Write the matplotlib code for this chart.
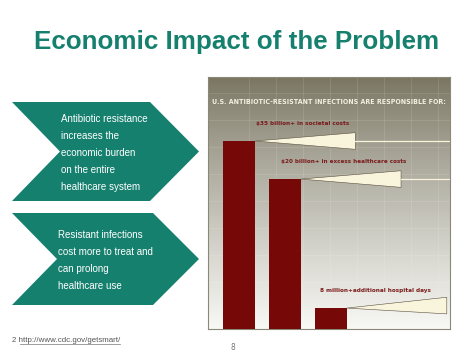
import numpy as np
import matplotlib.pyplot as plt
from matplotlib import font_manager
from matplotlib.patches import Polygon

# slide text
title = "Economic Impact of the Problem"
chevron_texts = [
    ["Antibiotic resistance", "increases the", "economic burden", "on the entire", "healthcare system"],
    ["Resistant infections", "cost more to treat and", "can prolong", "healthcare use"],
]
footnote = "2 http://www.cdc.gov/getsmart/"
page_no = "8"

# chart data (bar heights as % of panel height)
chart_header = "U.S. ANTIBIOTIC-RESISTANT INFECTIONS ARE RESPONSIBLE FOR:"
bar_labels = ["$35 billion+ in societal costs",
              "$20 billion+ in excess healthcare costs",
              "8 million+additional hospital days"]
bar_heights = [74.6, 59.5, 8.3]

teal = "#16806f"
barred = "#770808"
cream = "#f9f4dc"

# look for a narrow/condensed face for the infographic lettering
narrow_file = None
for f in font_manager.fontManager.ttflist:
    nm = (f.name + " " + str(f.stretch) + " " + f.fname).lower()
    if "condensed" in nm or "narrow" in nm:
        narrow_file = f.fname
        break
if narrow_file:
    narrow = dict(fontproperties=font_manager.FontProperties(fname=narrow_file, weight="bold"))
else:
    narrow = dict(family=["Roboto", "DejaVu Sans"], fontweight="bold")

fig = plt.figure(figsize=(4.74, 3.55), dpi=100)
fig.patch.set_facecolor("white")
renderer = fig.canvas.get_renderer()


def fit_width(txt, target):
    # shrink/grow font so the text is as wide as in the reference
    for _ in range(3):
        wpx = txt.get_window_extent(renderer=renderer).width
        txt.set_fontsize(txt.get_fontsize() * target / wpx)


# whole-slide axes in pixel units
sl = fig.add_axes([0, 0, 1, 1])
sl.set_xlim(0, 474)
sl.set_ylim(355, 0)
sl.axis("off")

sl.text(237, 42, title, color=teal, fontsize=18.7, fontweight="bold",
        family="Liberation Sans", ha="center", va="center")

# chevrons
chev = [(12, 102, 150, 199, 201, 60), (12, 213, 153, 199, 305, 57)]
for (x0, top, xr, tip, bot, notch), lines in zip(chev, chevron_texts):
    mid = (top + bot) / 2
    pts = [(x0, top), (xr, top), (tip, mid), (xr, bot), (x0, bot), (notch, mid)]
    sl.add_patch(Polygon(pts, closed=True, facecolor=teal, edgecolor="none"))
    n = len(lines)
    for i, s in enumerate(lines):
        y = mid + 1.5 + (i - (n - 1) / 2) * 17
        sl.text(notch + 1, y, s, color="white", fontsize=7.0,
                family="Liberation Sans", ha="left", va="center")

sl.text(12, 340, footnote, color="#555555", fontsize=5.7, family="Liberation Sans",
        ha="left", va="center")
sl.plot([20, 120], [343.8, 343.8], color="#777777", lw=0.5)
sl.text(233, 348, page_no, color="#777777", fontsize=5.5, ha="center", va="center")

# chart panel
ax = fig.add_axes([208 / 474, 26 / 355, 242 / 474, 252 / 355])
xmin, xmax = -0.68, 4.61
ax.set_xlim(xmin, xmax)
ax.set_ylim(0, 100)
ax.set_xticks([])
ax.set_yticks([])
for sp in ax.spines.values():
    sp.set_color("#8a8878")
    sp.set_linewidth(0.8)

# background gradient: olive grey at top to near-white at bottom
top_c = np.array([120, 116, 96]) / 255
bot_c = np.array([248, 248, 245]) / 255
t = np.linspace(0, 1, 256) ** 0.85          # 0 = top, 1 = bottom
grad = (top_c[None, :] * (1 - t[:, None]) + bot_c[None, :] * t[:, None])[:, None, :]
ax.imshow(grad, extent=[xmin, xmax, 0, 100], origin="upper", aspect="auto", zorder=0)
ax.set_ylim(0, 100)

for gx in np.arange(xmin + 0.9, xmax, 0.59):
    ax.axvline(gx, color="white", alpha=0.13, lw=0.6, zorder=1)
for gy in np.arange(8, 100, 10.7):
    ax.axhline(gy, color="white", alpha=0.13, lw=0.6, zorder=1)

hdr = ax.text((xmin + xmax) / 2, 90, chart_header, color="#f4f0e0", fontsize=7,
              ha="center", va="center", zorder=4, **narrow)
fit_width(hdr, 232)

pos = np.arange(len(bar_heights))
w = 0.7
ax.bar(pos, bar_heights, width=w, color=barred, zorder=3)

plen = 2.19
px = 45.75  # pixels per bar step
label_left = [0.02, -0.4, -0.57]  # label left edge relative to bar's right edge
label_w = [93, 122, 110]          # label widths in pixels
for p, h, lab, dl, lw_px in zip(pos, bar_heights, bar_labels, label_left, label_w):
    x0 = p + w / 2
    x1 = min(x0 + plen, xmax - 0.05)
    off = 1.0 if h < 20 else 0
    tri = [(x0, h), (x1, h + 3.3 + off), (x1, h - 3.3 + off)]
    ax.add_patch(Polygon(tri, closed=True, facecolor=cream, edgecolor="#5a5040",
                         lw=0.4, zorder=3))
    if x1 < xmax - 0.1:
        ax.plot([x1, xmax], [h, h], color=cream, lw=0.9, zorder=3)
    t_ = ax.text(x0 + dl + lw_px / px / 2, h + 6.8, lab, color="#7a1b1b", fontsize=6,
                 ha="center", va="center", zorder=4, **narrow)
    fit_width(t_, lw_px)

fig.savefig("out.png", dpi=100)
